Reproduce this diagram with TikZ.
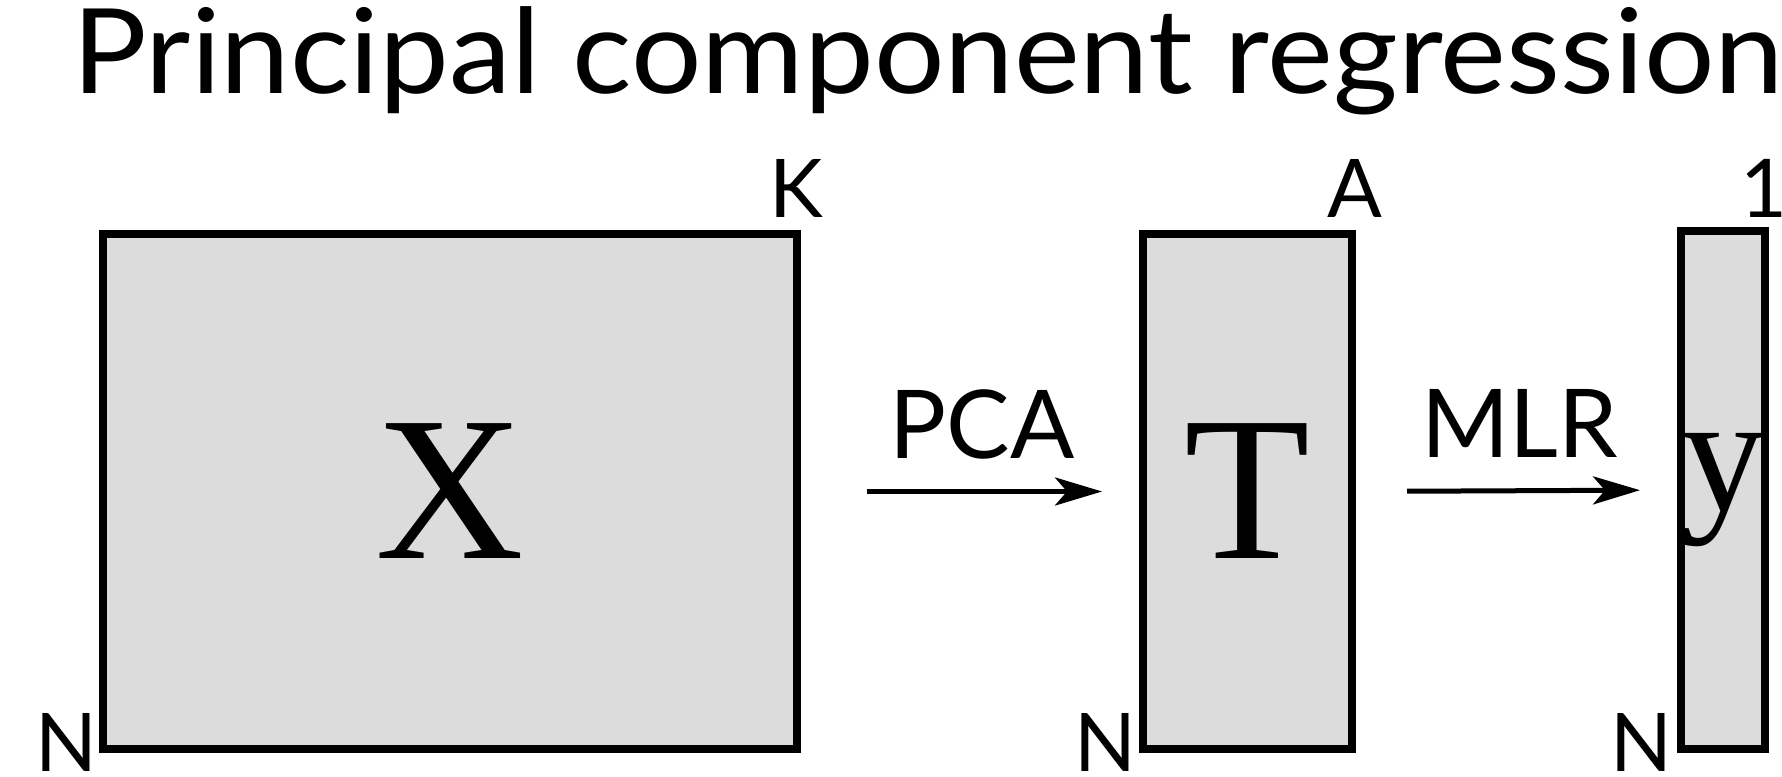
\documentclass[tikz,border=0pt]{standalone}
\usepackage{fontspec}
\setmainfont{Lato}
\newfontfamily\matfont{Liberation Serif}
\usetikzlibrary{arrows.meta,calc}
\definecolor{matgray}{RGB}{220,220,220}

\begin{document}
\begin{tikzpicture}[x=1pt,y=1pt] % PCR scheme
\tikzstyle{matrixbox} = [draw, fill=matgray, line width=8pt, rectangle, inner sep=0pt, outer sep=0pt, minimum height=515pt] % matrix block style
\tikzstyle{dimlabel} = [inner sep=0pt, font=\fontsize{81}{81}\selectfont] % sizes at the corners
\tikzstyle{steplabel} = [inner sep=0pt, anchor=base, font=\fontsize{95}{95}\selectfont] % method over the arrow
\tikzstyle{maparrow} = [line width=5pt, -{Stealth[length=47pt, width=28pt, inset=12pt]}]

\useasboundingbox (0,0) rectangle (1782,776);

\node[inner sep=0pt, anchor=base] (title) at (928,682) {\scalebox{1.055}[1]{\fontsize{118}{118}\selectfont Principal component regression}};

% matrices
\node[matrixbox, minimum width=694pt] (X) at (450,284.5) {\matfont\fontsize{206}{206}\selectfont X};
\node[matrixbox, minimum width=209pt] (T) at (1247.5,284.5) {\matfont\fontsize{206}{206}\selectfont T};
\node[matrixbox, minimum width=80pt, minimum height=518pt] (y) at (1723,286) {\matfont\fontsize{168}{168}\selectfont y};

% sizes
\node[dimlabel, anchor=base west] (K) at ($(X.north east)+(-28,16)$) {K};
\node[dimlabel, anchor=base west] (A) at ($(T.north east)+(-25,16)$) {A};
\node[dimlabel, anchor=base west] (one) at ($(y.north east)+(-25,13)$) {1};
\node[dimlabel, anchor=base east] (NX) at ($(X.south west)+(-5,-22)$) {N};
\node[dimlabel, anchor=base east] (NT) at ($(T.south west)+(-6,-22)$) {N};
\node[dimlabel, anchor=base east] (Ny) at ($(y.south west)+(-8,-22)$) {N};

% arrows
\draw[maparrow, shorten <=70pt, shorten >=41pt] (X.east) -- (T.west)
    node[steplabel, midway, xshift=12pt, yshift=33pt] (pca) {PCA};
\draw[maparrow, shorten <=55pt, shorten >=41pt] (T.east) -- (y.west)
    node[steplabel, midway, xshift=3pt, yshift=33pt] (mlr) {MLR};
\end{tikzpicture}
\end{document}
